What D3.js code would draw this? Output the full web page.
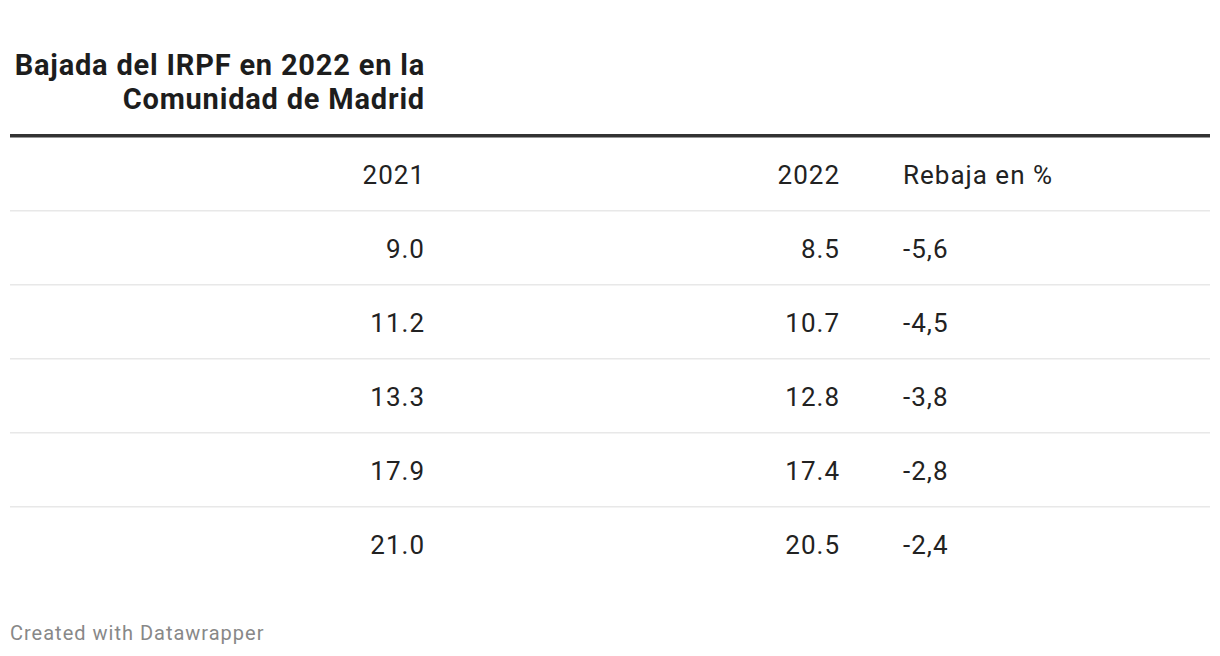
<!DOCTYPE html>
<html><head><meta charset="utf-8">
<script src="https://cdn.jsdelivr.net/npm/d3@7"></script>
<style>
html,body{margin:0;padding:0;background:#fff;}
svg{display:block;font-family:Roboto, "Noto Sans", sans-serif;}
</style></head>
<body>
<svg id="c" width="1220" height="656"></svg>
<script>
const titleLines = ["Bajada del IRPF en 2022 en la", "Comunidad de Madrid"];
const columns = ["2021", "2022", "Rebaja en %"];
const values2021 = ["9.0", "11.2", "13.3", "17.9", "21.0"];
const values2022 = ["8.5", "10.7", "12.8", "17.4", "20.5"];
const rebaja = ["-5,6", "-4,5", "-3,8", "-2,8", "-2,4"];
const footer = "Created with Datawrapper";

const svg = d3.select("#c");
const rowIds = ["header", 0, 1, 2, 3, 4];
const y = d3.scaleBand().domain(rowIds).range([137, 581]).padding(0);
const colX = [425, 840, 903];
const colAnchor = ["end", "end", "start"];

// title
svg.append("g").selectAll("text").data(titleLines).join("text")
  .attr("x", 425).attr("y", (d,i) => 75 + i*34)
  .attr("text-anchor", "end").attr("font-size", 29).attr("font-weight", 700)
  .attr("letter-spacing", 0.8)
  .attr("fill", "#1d1d1d").text(d => d);

// thick header line
svg.append("rect").attr("x", 10).attr("y", 134).attr("width", 1200).attr("height", 3.5).attr("fill", "#333");

// row separators
svg.append("g").selectAll("rect").data(rowIds.slice(0, -1)).join("rect")
  .attr("x", 10).attr("width", 1200).attr("height", 1.5)
  .attr("y", d => y(d) + y.bandwidth() - 1)
  .attr("fill", "#e8e8e8");

// header
svg.append("g").selectAll("text").data(columns).join("text")
  .attr("x", (d,i) => colX[i]).attr("text-anchor", (d,i) => colAnchor[i])
  .attr("y", y("header") + y.bandwidth()/2 + 1).attr("dy", "0.35em")
  .attr("font-size", 26).attr("letter-spacing", 1).attr("fill", "#222").text(d => d);

// body
const rows = values2021.map((v,i) => [v, values2022[i], rebaja[i]]);
const g = svg.append("g").selectAll("g").data(rows).join("g")
  .attr("transform", (d,i) => `translate(0,${y(i) + y.bandwidth()/2 + 1})`);
g.selectAll("text").data(d => d).join("text")
  .attr("x", (d,i) => colX[i]).attr("text-anchor", (d,i) => colAnchor[i])
  .attr("dy", "0.35em").attr("font-size", 26).attr("letter-spacing", 1)
  .attr("fill", "#222").text(d => d);

// footer
svg.append("text").attr("x", 10).attr("y", 640).attr("font-size", 20)
  .attr("letter-spacing", 1).attr("fill", "#888").text(footer);
</script>
</body></html>
